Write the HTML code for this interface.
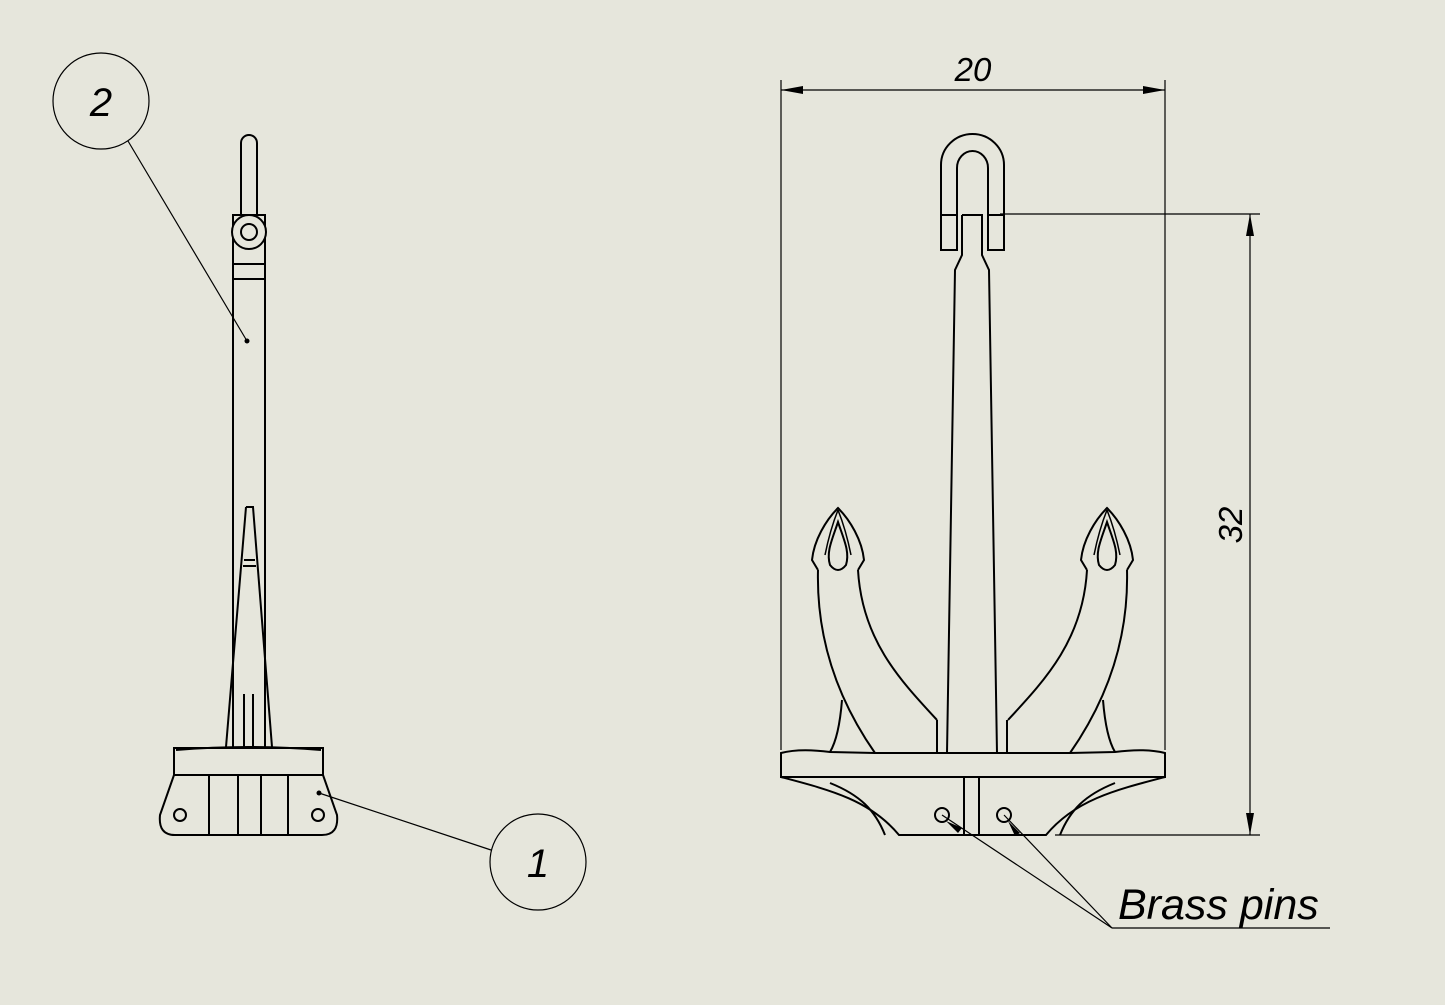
<!DOCTYPE html>
<html><head><meta charset="utf-8"><style>
html,body{margin:0;padding:0;background:#e6e6dc;}
svg{display:block}
text{font-family:"Liberation Sans",sans-serif;font-style:italic;fill:#000}
</style></head><body>
<svg width="1445" height="1005" viewBox="0 0 1445 1005" xmlns="http://www.w3.org/2000/svg">
<rect width="1445" height="1005" fill="#e6e6dc"/>
<g fill="none" stroke="#000" stroke-width="2">
<path d="M241,215 V143 A8,8 0 0 1 257,143 V215"/>
<rect x="233" y="215" width="32" height="533"/>
<circle cx="249" cy="232" r="17" fill="#e6e6dc"/>
<circle cx="249" cy="232" r="8"/>
<line x1="233" y1="264" x2="265" y2="264"/>
<line x1="233" y1="279" x2="265" y2="279"/>
<path d="M246,507 H253 L272,747 M246,507 L226,747"/>
<line x1="244" y1="560" x2="255" y2="560"/>
<line x1="243" y1="566" x2="256" y2="566"/>
<line x1="244" y1="694" x2="244" y2="748"/>
<line x1="253" y1="694" x2="253" y2="748"/>
<rect x="174" y="748" width="149" height="27" fill="#e6e6dc"/>
<path d="M176,750 Q249,744 321,750"/>
<path d="M174,775 L160,815 Q158,835 175,835 H322 Q339,835 337,815 L323,775"/>
<line x1="209" y1="775" x2="209" y2="835"/>
<line x1="238" y1="775" x2="238" y2="835"/>
<line x1="261" y1="775" x2="261" y2="835"/>
<line x1="288" y1="775" x2="288" y2="835"/>
<circle cx="180" cy="815" r="6"/>
<circle cx="318" cy="815" r="6"/>
<circle cx="101" cy="101" r="48" stroke-width="1.2"/>
<circle cx="538" cy="862" r="48" stroke-width="1.2"/>
<line x1="128" y1="141" x2="247" y2="341" stroke-width="1.2"/>
<line x1="319" y1="793" x2="491" y2="850" stroke-width="1.2"/>
</g>
<circle cx="247" cy="341" r="2.5"/>
<circle cx="319" cy="793" r="2.5"/>
<text x="101" y="116" font-size="40" text-anchor="middle">2</text>
<text x="538" y="877" font-size="40" text-anchor="middle">1</text>

<g fill="none" stroke="#000" stroke-width="1.2">
<line x1="781" y1="80" x2="781" y2="750"/>
<line x1="1165" y1="80" x2="1165" y2="750"/>
<line x1="781" y1="90" x2="1165" y2="90"/>
<line x1="1000" y1="214" x2="1260" y2="214"/>
<line x1="1055" y1="835" x2="1260" y2="835"/>
<line x1="1250" y1="214" x2="1250" y2="835"/>
<line x1="942" y1="815" x2="1112" y2="928"/>
<line x1="1004" y1="815" x2="1112" y2="928"/>
<line x1="1112" y1="928" x2="1330" y2="928"/>
</g>
<g fill="#000">
<path d="M781,90 l22,-4 v8z"/>
<path d="M1165,90 l-22,-4 v8z"/>
<path d="M1250,214 l-4,22 h8z"/>
<path d="M1250,835 l-4,-22 h8z"/>
<path d="M946,821 l16,7 l-4,5z"/>
<path d="M1008,821 l12,12 l-5,3z"/>
</g>
<text x="973" y="81" font-size="33" text-anchor="middle">20</text>
<text x="0" y="0" font-size="33" text-anchor="middle" transform="translate(1242,525) rotate(-90)">32</text>
<text x="1118" y="919" font-size="43">Brass pins</text>

<g fill="none" stroke="#000" stroke-width="2">
<path d="M941,250 V165 A31.5,31 0 0 1 1004,165 V250"/>
<path d="M957,215 V168 A15.5,17 0 0 1 988,168 V215"/>
<rect x="941" y="215" width="16" height="35"/>
<rect x="988" y="215" width="16" height="35"/>
<path d="M962,215 H982 V255 L989,270 L997,753 M962,215 V255 L955,270 L947,753"/>
<line x1="937" y1="720" x2="937" y2="753"/>
<line x1="1007" y1="720" x2="1007" y2="753"/>
<path d="M818,570 C816,650 845,710 875,753"/>
<path d="M858,570 C862,640 900,680 937,720"/>
<path d="M842,700 C840,725 836,742 830,752"/>
<path d="M818,570 L812,560 C814,540 826,520 838,508 C850,520 862,540 864,560 L858,570"/>
<path d="M838,522 C832,540 826,552 830,565 Q838,575 846,565 C850,552 844,540 838,522Z"/>
<path d="M825,555 Q830,530 838,510 M851,555 Q846,530 838,510" stroke-width="1.5"/>
<g transform="translate(1945,0) scale(-1,1)">
<path d="M818,570 C816,650 845,710 875,753"/>
<path d="M858,570 C862,640 900,680 937,720"/>
<path d="M842,700 C840,725 836,742 830,752"/>
<path d="M818,570 L812,560 C814,540 826,520 838,508 C850,520 862,540 864,560 L858,570"/>
<path d="M838,522 C832,540 826,552 830,565 Q838,575 846,565 C850,552 844,540 838,522Z"/>
<path d="M825,555 Q830,530 838,510 M851,555 Q846,530 838,510" stroke-width="1.5"/>
</g>
<path d="M781,753 Q800,748 830,752 L875,753 H1070 L1115,752 Q1145,748 1165,753 V777 H781Z" fill="#e6e6dc"/>
<path d="M781,777 C830,790 870,800 899,835 H1046 C1075,800 1115,790 1165,777"/>
<path d="M830,783 C860,795 875,810 885,835"/>
<path d="M1115,783 C1085,795 1070,810 1060,835"/>
<line x1="964" y1="777" x2="964" y2="835"/>
<line x1="979" y1="777" x2="979" y2="835"/>
<circle cx="942" cy="815" r="7"/>
<circle cx="1004" cy="815" r="7"/>
</g>
</svg>
</body></html>
